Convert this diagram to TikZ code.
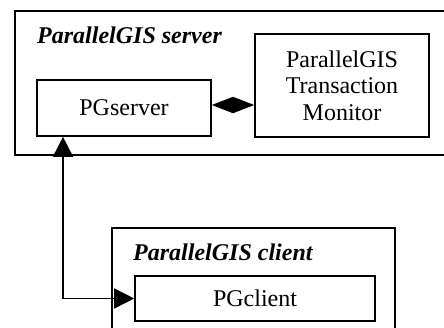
\documentclass[tikz,border=0pt]{standalone}
\usepackage{fontspec}
\setmainfont{Liberation Serif}
\usetikzlibrary{arrows.meta,calc}
\begin{document}
\begin{tikzpicture}[x=1pt,y=-1pt,
  container/.style={draw,line width=2pt},
  box/.style={draw,line width=1.6pt,inner sep=0pt,font=\fontsize{24}{26.5}\selectfont,align=center},
  title/.style={font=\fontsize{24}{26.5}\selectfont\bfseries\itshape,inner sep=0pt},
  conn/.style={line width=1.6pt,{Triangle[length=20pt,width=20pt]}-{Triangle[length=20pt,width=20pt]}},
  mid/.style={line width=1.2pt,{Triangle[length=21pt,width=16pt]}-{Triangle[length=21pt,width=16pt]}}
]
\useasboundingbox (0,0) rectangle (444,327);
\clip (0,0) rectangle (444,327);
\draw[container] (15,11) rectangle (460,155);
\draw[container] (112,228) rectangle (395,340);
\node[title,anchor=base west] (stitle) at (37,43) {ParallelGIS server};
\node[title,anchor=base west] (ctitle) at (133,260) {ParallelGIS client};
\node[box,minimum width=174pt,minimum height=56pt] (pgserver) at (124,108) {PGserver};
\node[box,minimum width=174pt,minimum height=103pt] (monitor) at (342,85.5) {ParallelGIS\\Transaction\\Monitor};
\node[box,minimum width=240pt,minimum height=45pt] (pgclient) at (255,298.5) {PGclient};
\coordinate (bend) at (63,298.5);
\coordinate (midy) at (0,105);
\draw[mid] (pgserver.east |- midy) -- (monitor.west |- midy);
\draw[conn] (pgserver.south -| bend) -- (bend) -- (pgclient.west);
\end{tikzpicture}
\end{document}
